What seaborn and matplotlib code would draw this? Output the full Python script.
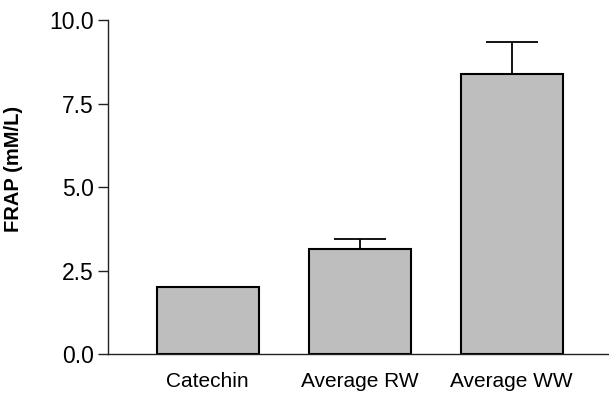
import pandas as pd
import numpy as np
import seaborn as sns
import matplotlib
matplotlib.use('Agg')
import matplotlib.pyplot as plt

# data
samples = ['Catechin', 'Average RW', 'Average WW']
frap = [2.0, 3.13, 8.38]
frap_err = [0.0, 0.31, 0.97]

df = pd.DataFrame({'sample': samples, 'frap': frap})

sns.set_style('ticks', {'text.color': 'black', 'axes.labelcolor': 'black',
                        'xtick.color': 'black', 'ytick.color': 'black'})
plt.rcParams['font.family'] = ['Liberation Sans', 'DejaVu Sans']

fig = plt.figure(figsize=(6.09, 3.94), dpi=100)
ax = fig.add_axes([0.177, 0.1015, 0.823, 0.8475])

sns.barplot(data=df, x='sample', y='frap', color='#bebebe', saturation=1,
            width=0.67, edgecolor='black', linewidth=1.5, errorbar=None, ax=ax)

# upper error bars only
ax.errorbar(np.arange(len(samples)), frap,
            yerr=[np.zeros(len(samples)), frap_err],
            fmt='none', ecolor='black', elinewidth=1.3, capsize=18.7, capthick=1.3)

ax.set_ylim(0, 10)
ax.set_xlim(-0.658, 2.64)
ax.set_yticks([0, 2.5, 5.0, 7.5, 10.0])
ax.set_yticklabels(['0.0', '2.5', '5.0', '7.5', '10.0'])
ax.tick_params(axis='y', length=7, width=1, labelsize=16.5, pad=3,
               colors='#222222', labelcolor='black')
ax.tick_params(axis='x', length=0, labelsize=15, pad=13, labelcolor='black')
ax.set_xlabel('')
ax.set_ylabel('FRAP (mM/L)', fontsize=14.5, fontweight='bold', color='black')
ax.yaxis.set_label_coords(-0.17, 0.554)
sns.despine(ax=ax)
for s in ['left', 'bottom']:
    ax.spines[s].set_linewidth(1)
    ax.spines[s].set_color('#222222')

fig.savefig('out.png', dpi=100)
